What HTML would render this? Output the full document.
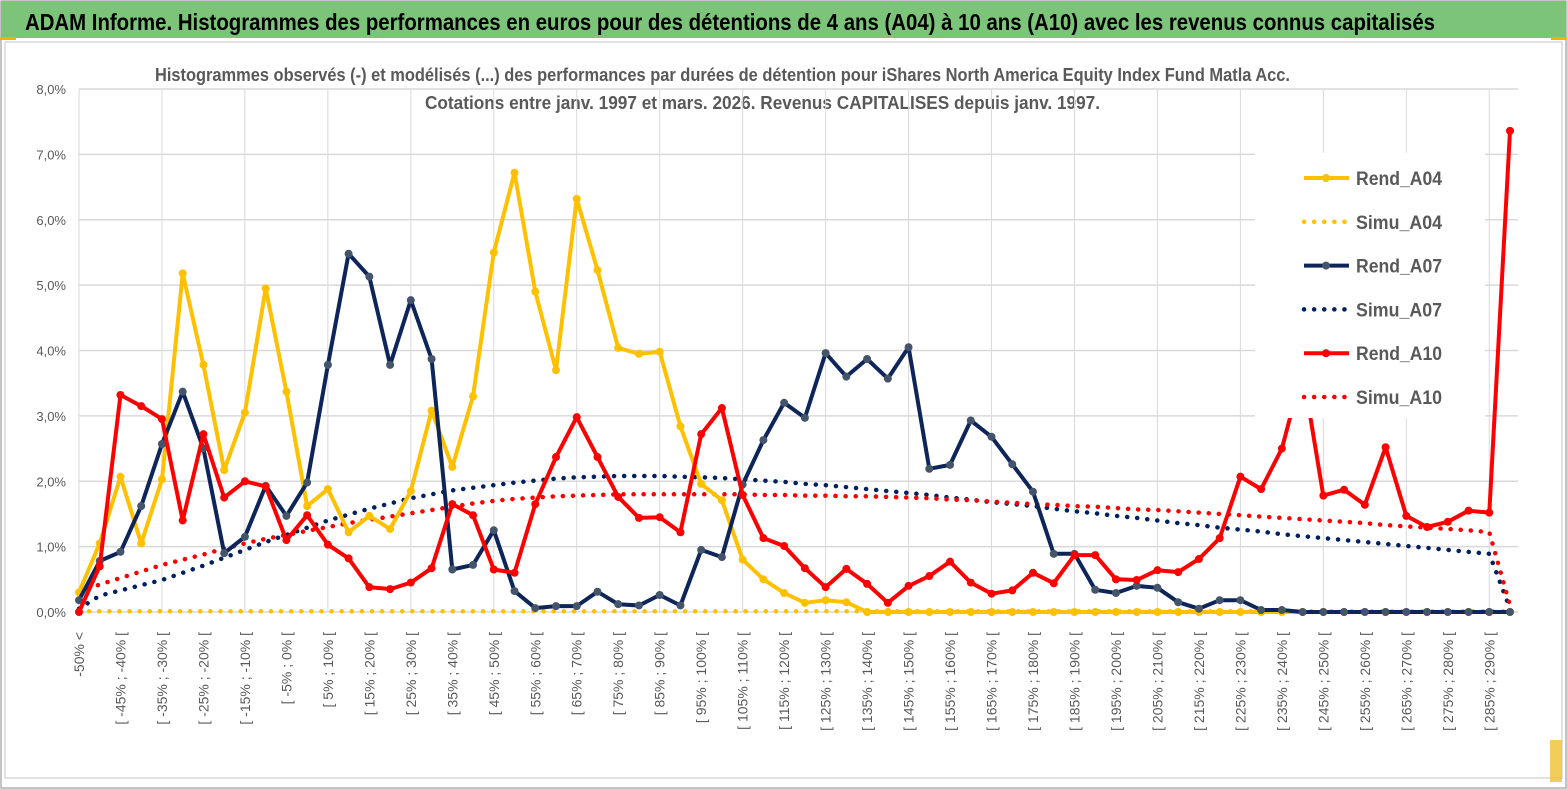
<!DOCTYPE html>
<html><head><meta charset="utf-8"><style>
html,body{margin:0;padding:0;background:#fff;}
svg{display:block;font-family:"Liberation Sans",sans-serif;}
</style></head><body>
<svg id="chart" width="1567" height="789" viewBox="0 0 1567 789">
<rect x="0" y="0" width="1567" height="789" fill="#fff"/>
<rect x="1" y="1" width="1565" height="787" fill="none" stroke="#8a8a8a" stroke-width="1"/>
<rect x="1" y="1" width="1565" height="37" fill="#7dc47b"/>
<rect x="0" y="37" width="16" height="3" fill="#f0b400"/>
<rect x="1551" y="37" width="16" height="3" fill="#f0b400"/>
<text x="25" y="30" font-size="23" font-weight="bold" fill="#000" textLength="1410" lengthAdjust="spacingAndGlyphs">ADAM Informe. Histogrammes des performances en euros pour des détentions de 4 ans (A04) à 10 ans (A10) avec les revenus connus capitalisés</text>
<rect x="5" y="42" width="1557" height="736" fill="none" stroke="#d9d9d9" stroke-width="1.5"/>
<rect x="1550" y="740" width="12" height="42" fill="#f0c030" opacity="0.8"/>
<text x="155" y="81" font-size="18" font-weight="bold" fill="#595959" textLength="1135" lengthAdjust="spacingAndGlyphs">Histogrammes observés (-) et modélisés (...) des performances par durées de détention pour iShares North America Equity Index Fund Matla Acc.</text>
<text x="425" y="109" font-size="18" font-weight="bold" fill="#595959" textLength="675" lengthAdjust="spacingAndGlyphs">Cotations entre janv. 1997 et mars. 2026. Revenus CAPITALISES depuis janv. 1997.</text>
<g id="grid"></g>
<g id="ylabels"></g>
<g id="xlabels"></g>
<g id="series"></g>
<g id="legend"></g>
</svg>
<script>
const categories = (function(){const c=["-50% <"];for(let a=-50;a<295;a+=5){c.push("[ "+a+"% ; "+(a+5)+"% [");}return c.slice(0,70);})();
const yTicks = [0,1,2,3,4,5,6,7,8];
const rendA04 = [0.3,1.05,2.07,1.05,2.03,5.18,3.78,2.17,3.05,4.95,3.37,1.62,1.88,1.22,1.47,1.27,1.85,3.08,2.22,3.3,5.5,6.72,4.9,3.7,6.32,5.23,4.04,3.95,3.98,2.84,1.96,1.71,0.8,0.5,0.29,0.14,0.18,0.15,0,0,0,0,0,0,0,0,0,0,0,0,0,0,0,0,0,0,0,0,0,0,0,0,0,0,0,0,0,0,0,0];
const simuA04 = [0.01,0.01,0.01,0.01,0.01,0.01,0.01,0.01,0.01,0.01,0.01,0.01,0.01,0.01,0.01,0.01,0.01,0.01,0.01,0.01,0.01,0.01,0.01,0.01,0.01,0.01,0.01,0.01,0.01,0.01,0.01,0.01,0.01,0.01,0.01,0.01,0.01,0.01,0.01,0.01,0.01,0.01,0.01,0.01,0.01,0.01,0.01,0.01,0.01,0.01,0.01,0.01,0.01,0.01,0.01,0.01,0.01,0.01,0.01,0.01,0.01,0.01,0.01,0.01,0.01,0.01,0.01,0.01,0.01,0.01];
const rendA07 = [0.18,0.78,0.92,1.62,2.57,3.37,2.5,0.9,1.15,1.93,1.47,1.98,3.78,5.48,5.13,3.78,4.77,3.87,0.65,0.72,1.25,0.32,0.06,0.09,0.09,0.31,0.12,0.1,0.26,0.1,0.95,0.84,1.95,2.63,3.2,2.97,3.96,3.6,3.87,3.57,4.05,2.19,2.25,2.93,2.68,2.26,1.84,0.89,0.89,0.34,0.29,0.4,0.37,0.15,0.05,0.18,0.18,0.03,0.03,0,0,0,0,0,0,0,0,0,0,0];
const simuA07 = [0.05,0.25,0.33,0.41,0.49,0.6,0.71,0.83,0.95,1.07,1.18,1.29,1.4,1.49,1.58,1.66,1.74,1.8,1.86,1.9,1.94,1.98,2.01,2.04,2.06,2.07,2.08,2.08,2.08,2.07,2.06,2.05,2.03,2.01,1.99,1.96,1.94,1.91,1.88,1.85,1.82,1.79,1.75,1.72,1.68,1.65,1.62,1.58,1.54,1.51,1.47,1.44,1.4,1.36,1.33,1.29,1.26,1.23,1.19,1.16,1.13,1.1,1.07,1.04,1.01,0.98,0.95,0.92,0.89,0.05];
const rendA10 = [0,0.7,3.32,3.15,2.95,1.4,2.72,1.75,2.0,1.92,1.1,1.48,1.03,0.82,0.38,0.35,0.45,0.67,1.65,1.48,0.65,0.6,1.65,2.37,2.98,2.37,1.76,1.44,1.45,1.22,2.72,3.12,1.79,1.13,1.01,0.67,0.38,0.66,0.43,0.14,0.4,0.55,0.77,0.45,0.28,0.33,0.6,0.44,0.87,0.87,0.5,0.49,0.64,0.61,0.81,1.13,2.07,1.88,2.5,3.7,1.78,1.87,1.64,2.52,1.47,1.3,1.38,1.55,1.52,7.36];
const simuA10 = [0.3,0.42,0.52,0.62,0.72,0.8,0.88,0.97,1.05,1.12,1.18,1.24,1.3,1.36,1.41,1.46,1.51,1.56,1.61,1.66,1.7,1.73,1.75,1.77,1.78,1.79,1.8,1.8,1.8,1.8,1.8,1.8,1.8,1.79,1.79,1.78,1.78,1.77,1.77,1.76,1.75,1.74,1.72,1.71,1.69,1.67,1.65,1.64,1.62,1.61,1.59,1.57,1.56,1.54,1.52,1.5,1.48,1.46,1.44,1.42,1.4,1.38,1.36,1.33,1.31,1.29,1.27,1.25,1.22,0.1];

const NS="http://www.w3.org/2000/svg";
const X0=79, X1=1510, Y0=612, YTOP=89, YMAX=8;
function xPos(i){return X0+(X1-X0)*i/(categories.length-1);}
function yPos(v){return Y0-(Y0-YTOP)*v/YMAX;}
function mk(tag,attrs,parent){const e=document.createElementNS(NS,tag);for(const k in attrs)e.setAttribute(k,attrs[k]);parent.appendChild(e);return e;}

const grid=document.getElementById('grid');
yTicks.forEach(t=>{
  const l=mk('line',{x1:X0,x2:X1+8,y1:yPos(t),y2:yPos(t),stroke:'#d9d9d9','stroke-width':1.5},grid);
  
  
});
for(let i=0;i<categories.length;i+=4){
  const l=mk('line',{x1:xPos(i),x2:xPos(i),y1:YTOP,y2:Y0,stroke:'#d9d9d9','stroke-width':1},grid);
  
  
}
const yl=document.getElementById('ylabels');
yTicks.forEach(t=>{
  const tx=mk('text',{x:66,y:yPos(t)+5,'text-anchor':'end','font-size':13,fill:'#595959'},yl);
  tx.textContent=t.toFixed(1).replace('.',',')+'%';
  
  
});
const xl=document.getElementById('xlabels');
categories.forEach((c,i)=>{
  if(i%2!==0) return;
  const x=xPos(i)+5, y=632;
  const tx=mk('text',{x:x,y:y,'text-anchor':'end','font-size':14,fill:'#595959',transform:'rotate(-90 '+x+' '+y+')'},xl);
  tx.textContent=c;
  
  
});
const sg=document.getElementById('series');
function pts(arr){return arr.map((v,i)=>xPos(i).toFixed(1)+','+yPos(v).toFixed(1)).join(' ');}
function dotted(arr,color,name){
  const p=mk('polyline',{points:pts(arr),fill:'none',stroke:color,'stroke-width':4.5,'stroke-dasharray':'0.1 10','stroke-linecap':'round'},sg);
  
  
}
function solid(arr,color,mcolor,name){
  const p=mk('polyline',{points:pts(arr),fill:'none',stroke:color,'stroke-width':4,'stroke-linejoin':'round'},sg);
  
  
  arr.forEach((v,i)=>{
    const c=mk('circle',{cx:xPos(i),cy:yPos(v),r:4,fill:mcolor},sg);
    
    
  });
}
dotted(simuA04,'#ffc000','simu-a04-line');
dotted(simuA07,'#002060','simu-a07-line');
dotted(simuA10,'#ff0000','simu-a10-line');
solid(rendA04,'#ffc000','#ffc000','rend-a04-line');
solid(rendA07,'#0d2558','#44546a','rend-a07-line');
solid(rendA10,'#ff0000','#ff0000','rend-a10-line');

const lg=document.getElementById('legend');
mk('rect',{x:1255,y:153,width:230,height:265,fill:'#fff'},lg);
const legendItems=[['Rend_A04','#ffc000','#ffc000',false],['Simu_A04','#ffc000','',true],['Rend_A07','#0d2558','#44546a',false],['Simu_A07','#002060','',true],['Rend_A10','#ff0000','#ff0000',false],['Simu_A10','#ff0000','',true]];
legendItems.forEach((it,k)=>{
  const y=178+k*43.8;
  const g=mk('g',{},lg);
  
  
  if(it[3]){
    mk('line',{x1:1304,x2:1346,y1:y,y2:y,stroke:it[1],'stroke-width':4.5,'stroke-dasharray':'0.1 10','stroke-linecap':'round'},g);
  } else {
    mk('line',{x1:1304,x2:1349,y1:y,y2:y,stroke:it[1],'stroke-width':4},g);
    mk('circle',{cx:1326,cy:y,r:4,fill:it[2]},g);
  }
  const t=mk('text',{x:1356,y:y+7,'font-size':19,'font-weight':'bold',fill:'#595959',textLength:'86',lengthAdjust:'spacingAndGlyphs'},g);
  t.textContent=it[0];
});
</script>
</body></html>
